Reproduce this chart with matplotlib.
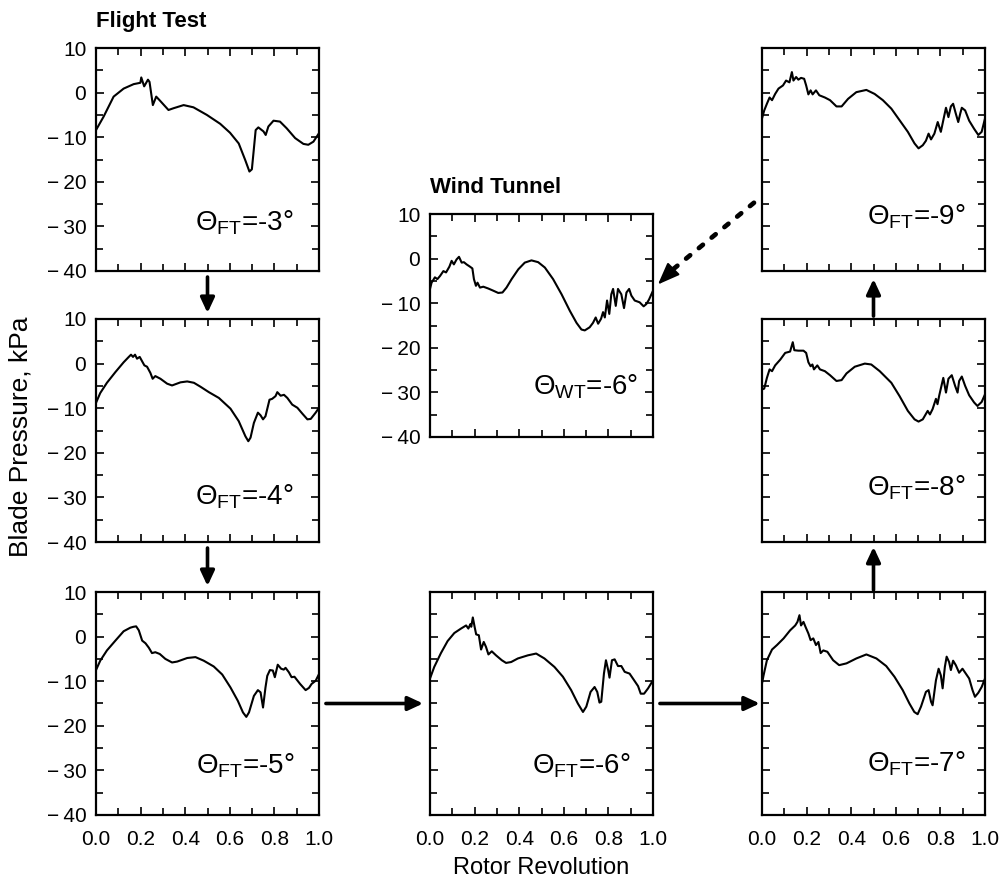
import matplotlib
matplotlib.use("Agg")
import matplotlib.pyplot as plt
from matplotlib.patches import ConnectionPatch, ArrowStyle
from matplotlib.ticker import MultipleLocator, FuncFormatter
from matplotlib.transforms import blended_transform_factory as blend

plt.rcParams['font.family'] = ['Liberation Sans', 'DejaVu Sans']
plt.rcParams['mathtext.fontset'] = 'custom'
plt.rcParams['mathtext.rm'] = 'Liberation Sans'

# (rotor revolution, blade pressure kPa)
ft3 = [(0, -8.4), (0.034, -5.4), (0.079, -0.9), (0.124, 0.9), (0.169, 1.9), (0.199, 2.2),
       (0.203, 3.4), (0.216, 1.4), (0.233, 2.9), (0.24, 2.4), (0.255, -2.8), (0.27, -0.9),
       (0.285, -1.7), (0.325, -3.9), (0.348, -3.5), (0.393, -2.8), (0.437, -3.3), (0.497, -5.0),
       (0.557, -7.0), (0.601, -9.0), (0.64, -11.4), (0.669, -15.1), (0.688, -17.7), (0.699, -17.2),
       (0.706, -13.6), (0.716, -8.4), (0.728, -7.8), (0.751, -8.7), (0.761, -9.5), (0.773, -7.6),
       (0.796, -6.3), (0.825, -6.5), (0.855, -8.0), (0.893, -10.2), (0.93, -11.5), (0.952, -11.7),
       (0.975, -11.0), (1.0, -9.1)]

ft4 = [(0, -8.8), (0.019, -6.6), (0.049, -4.3), (0.087, -1.9), (0.124, 0.3), (0.147, 1.5),
       (0.157, 2.0), (0.166, 1.5), (0.175, 2.0), (0.184, 1.1), (0.196, 1.5), (0.207, 0.5),
       (0.217, -0.4), (0.229, -0.7), (0.244, -2.1), (0.254, -3.4), (0.266, -2.8), (0.289, -3.4),
       (0.319, -4.5), (0.341, -4.9), (0.379, -4.2), (0.409, -4.0), (0.439, -4.3), (0.469, -5.2),
       (0.506, -6.4), (0.551, -7.7), (0.603, -10.1), (0.64, -12.9), (0.67, -16.3), (0.683, -17.4),
       (0.693, -16.6), (0.708, -13.3), (0.726, -11.0), (0.738, -11.6), (0.749, -12.5), (0.76, -11.8),
       (0.778, -8.1), (0.79, -7.9), (0.805, -7.3), (0.813, -6.4), (0.828, -7.2), (0.843, -7.0),
       (0.858, -7.7), (0.88, -9.2), (0.903, -9.9), (0.925, -11.2), (0.948, -12.5), (0.963, -12.4),
       (0.985, -11.0), (1.0, -9.9)]

ft5 = [(0, -7.5), (0.019, -5.4), (0.049, -3.1), (0.087, -0.9), (0.124, 1.2), (0.154, 2.0),
       (0.168, 2.2), (0.18, 2.3), (0.192, 1.4), (0.207, -0.9), (0.222, -1.5), (0.237, -2.5),
       (0.251, -3.7), (0.266, -3.5), (0.286, -3.9), (0.311, -5.0), (0.341, -5.8), (0.364, -5.6),
       (0.409, -4.8), (0.446, -4.6), (0.483, -5.4), (0.528, -6.7), (0.566, -8.5), (0.603, -11.4),
       (0.636, -14.4), (0.659, -17.0), (0.674, -18.0), (0.686, -17.0), (0.708, -13.3), (0.726, -12.0),
       (0.738, -12.5), (0.749, -15.9), (0.76, -11.4), (0.768, -8.8), (0.78, -7.5), (0.793, -7.6),
       (0.802, -9.1), (0.815, -6.3), (0.83, -7.2), (0.842, -7.4), (0.85, -7.0), (0.865, -8.0),
       (0.877, -9.1), (0.89, -9.0), (0.915, -10.6), (0.94, -12.0), (0.955, -11.5), (0.967, -10.6),
       (0.985, -9.9), (1.0, -8.4)]

ft6 = [(0, -9.4), (0.019, -6.8), (0.049, -3.7), (0.079, -1.0), (0.109, 0.8), (0.139, 1.8),
       (0.162, 2.5), (0.172, 1.8), (0.181, 2.8), (0.185, 2.2), (0.192, 4.3), (0.2, 2.2),
       (0.207, 0.5), (0.219, 0.3), (0.229, -2.9), (0.241, -1.2), (0.251, -2.3), (0.262, -4.0),
       (0.277, -3.3), (0.296, -4.2), (0.322, -5.3), (0.341, -5.9), (0.364, -5.7), (0.394, -4.9),
       (0.439, -4.2), (0.476, -3.8), (0.513, -4.9), (0.558, -6.8), (0.596, -9.0), (0.633, -12.0),
       (0.663, -15.0), (0.686, -16.9), (0.701, -15.7), (0.72, -12.4), (0.738, -11.3), (0.75, -12.4),
       (0.76, -14.8), (0.768, -14.6), (0.78, -8.3), (0.789, -5.3), (0.799, -7.5), (0.805, -9.2),
       (0.816, -5.3), (0.828, -5.1), (0.843, -6.6), (0.858, -6.6), (0.873, -7.9), (0.895, -8.3),
       (0.91, -9.4), (0.933, -11.1), (0.945, -12.8), (0.96, -12.8), (0.978, -11.6), (1.0, -9.8)]

ft7 = [(0, -10.5), (0.007, -8.7), (0.022, -5.3), (0.045, -2.9), (0.067, -1.9), (0.097, -0.4),
       (0.126, 1.4), (0.149, 2.5), (0.159, 3.3), (0.168, 4.8), (0.175, 2.5), (0.186, 3.3),
       (0.195, 2.2), (0.208, 0.7), (0.218, -0.8), (0.23, -0.4), (0.242, -1.9), (0.253, -1.2),
       (0.263, -3.7), (0.275, -3.1), (0.293, -3.4), (0.319, -5.3), (0.346, -6.4), (0.379, -6.0),
       (0.423, -4.9), (0.468, -4.0), (0.513, -4.9), (0.557, -6.6), (0.594, -9.0), (0.631, -12.0),
       (0.661, -15.0), (0.683, -16.9), (0.698, -17.4), (0.713, -15.7), (0.735, -12.4), (0.747, -12.0),
       (0.758, -14.6), (0.765, -15.4), (0.78, -9.8), (0.792, -7.2), (0.802, -8.7), (0.81, -11.6),
       (0.82, -6.8), (0.828, -4.5), (0.839, -5.7), (0.847, -7.5), (0.857, -5.4), (0.869, -6.4),
       (0.884, -8.1), (0.899, -7.2), (0.914, -8.3), (0.929, -9.4), (0.944, -12.0), (0.955, -13.5),
       (0.97, -12.6), (0.985, -11.3), (1.0, -9.4)]

ft8 = [(0, -5.8), (0.01, -5.6), (0.022, -3.2), (0.034, -1.3), (0.045, -1.7), (0.059, -0.4),
       (0.082, 0.9), (0.104, 2.4), (0.126, 2.7), (0.138, 4.8), (0.145, 3.0), (0.163, 2.9),
       (0.186, 2.9), (0.198, 2.4), (0.208, 0.3), (0.218, -0.6), (0.226, -0.2), (0.233, -1.3),
       (0.248, -0.4), (0.26, -1.3), (0.282, -1.7), (0.305, -2.6), (0.334, -3.9), (0.357, -3.7),
       (0.379, -2.2), (0.416, -0.7), (0.461, 0.0), (0.49, -0.2), (0.528, -1.7), (0.58, -4.3),
       (0.617, -7.3), (0.654, -10.6), (0.684, -12.5), (0.702, -13.0), (0.721, -12.5), (0.743, -10.6),
       (0.753, -11.4), (0.765, -10.2), (0.78, -7.9), (0.787, -9.1), (0.795, -7.1), (0.813, -3.2),
       (0.825, -6.5), (0.836, -3.4), (0.851, -2.6), (0.866, -5.0), (0.877, -6.5), (0.884, -3.9),
       (0.896, -2.9), (0.911, -5.0), (0.929, -7.1), (0.951, -8.7), (0.966, -9.5), (0.985, -8.6),
       (1.0, -6.9)]

ft9 = [(0, -5.8), (0.01, -4.0), (0.022, -2.5), (0.034, -1.1), (0.045, -1.7), (0.059, -0.3),
       (0.074, 0.9), (0.094, 1.6), (0.108, 2.7), (0.123, 2.3), (0.134, 4.6), (0.141, 2.7),
       (0.153, 3.5), (0.163, 2.9), (0.175, 3.3), (0.189, 3.1), (0.198, 1.6), (0.208, -0.4),
       (0.218, 0.5), (0.227, -0.4), (0.242, 0.5), (0.257, -0.6), (0.282, -1.1), (0.305, -1.7),
       (0.334, -3.1), (0.357, -3.1), (0.386, -1.4), (0.423, 0.1), (0.468, 0.6), (0.505, -0.3),
       (0.542, -1.7), (0.58, -3.6), (0.617, -6.2), (0.654, -8.8), (0.684, -11.4), (0.702, -12.5),
       (0.721, -11.8), (0.735, -10.8), (0.747, -9.2), (0.758, -10.5), (0.773, -9.2), (0.788, -6.6),
       (0.802, -8.8), (0.813, -6.2), (0.825, -3.4), (0.836, -5.5), (0.847, -3.1), (0.857, -2.5),
       (0.869, -4.7), (0.88, -6.6), (0.889, -4.7), (0.896, -3.4), (0.911, -4.0), (0.929, -6.3),
       (0.951, -8.1), (0.97, -9.5), (0.985, -8.8), (1.0, -5.8)]

wt6 = [(0, -6.8), (0.007, -5.4), (0.022, -4.2), (0.033, -4.6), (0.045, -3.9), (0.06, -2.8),
       (0.072, -3.1), (0.087, -1.8), (0.097, -0.5), (0.107, -1.3), (0.119, -0.2), (0.13, 0.4),
       (0.142, -0.9), (0.152, -0.8), (0.164, -1.3), (0.179, -1.8), (0.19, -2.2), (0.197, -4.6),
       (0.206, -6.1), (0.213, -5.4), (0.224, -6.5), (0.239, -6.3), (0.261, -6.7), (0.284, -7.2),
       (0.306, -7.7), (0.325, -7.6), (0.343, -6.5), (0.366, -4.6), (0.396, -2.4), (0.425, -0.9),
       (0.455, -0.4), (0.485, -0.8), (0.515, -2.0), (0.552, -4.6), (0.59, -8.0), (0.627, -11.7),
       (0.657, -14.4), (0.679, -15.9), (0.694, -16.1), (0.716, -15.4), (0.731, -14.4), (0.743, -13.2),
       (0.754, -14.6), (0.767, -13.5), (0.776, -12.0), (0.784, -13.2), (0.794, -9.4), (0.804, -12.4),
       (0.813, -8.0), (0.821, -6.8), (0.833, -10.6), (0.843, -6.8), (0.858, -8.0), (0.87, -11.1),
       (0.881, -7.6), (0.893, -6.8), (0.903, -8.3), (0.918, -9.4), (0.94, -9.8), (0.958, -10.7),
       (0.97, -10.2), (0.982, -9.2), (1.0, -7.2)]

labels = {'ft3': ('FT', '-3'), 'ft4': ('FT', '-4'), 'ft5': ('FT', '-5'), 'ft6': ('FT', '-6'),
          'ft7': ('FT', '-7'), 'ft8': ('FT', '-8'), 'ft9': ('FT', '-9'), 'wt6': ('WT', '-6')}
curves = {'ft3': ft3, 'ft4': ft4, 'ft5': ft5, 'ft6': ft6, 'ft7': ft7, 'ft8': ft8, 'ft9': ft9, 'wt6': wt6}

W, H = 1000, 885
fig = plt.figure(figsize=(W / 100, H / 100), dpi=100)

# panel boxes in pixels: left, top
boxes = {'ft3': (96, 48), 'ft4': (96, 319), 'ft5': (96, 592),
         'wt6': (430, 214), 'ft6': (430, 592),
         'ft9': (762, 48), 'ft8': (762, 319), 'ft7': (762, 592)}
pw, ph = 223, 223
ylabelled = ['ft3', 'ft4', 'ft5', 'wt6']
xlabelled = ['ft5', 'ft6', 'ft7']
label_x = {'ft3': 0.445, 'ft4': 0.445, 'ft5': 0.45, 'wt6': 0.46, 'ft6': 0.457,
           'ft7': 0.47, 'ft8': 0.47, 'ft9': 0.47}
label_y = {'ft3': 0.215, 'ft4': 0.205, 'ft5': 0.22, 'wt6': 0.227, 'ft6': 0.22,
           'ft7': 0.23, 'ft8': 0.245, 'ft9': 0.245}


def yfmt(v, pos):
    # long minus with a little gap, as in the original
    return ('\u2212\u2009%d' % -v) if v < 0 else '%d' % v


axes = {}
for key, (l, t) in boxes.items():
    ax = fig.add_axes([l / W, 1 - (t + ph) / H, pw / W, ph / H])
    xs = [p[0] for p in curves[key]]
    ys = [p[1] for p in curves[key]]
    ax.plot(xs, ys, color='black', lw=1.5)
    ax.set_xlim(0, 1)
    ax.set_ylim(-40, 10)
    ax.xaxis.set_major_locator(MultipleLocator(0.2))
    ax.xaxis.set_minor_locator(MultipleLocator(0.1))
    ax.yaxis.set_major_locator(MultipleLocator(10))
    ax.yaxis.set_minor_locator(MultipleLocator(5))
    ax.tick_params(which='both', direction='in', top=True, right=True, width=1.2,
                   labelsize=15, colors='black')
    ax.tick_params(which='major', length=6)
    ax.tick_params(which='minor', length=5)
    ax.tick_params(axis='x', pad=11)
    ax.tick_params(axis='y', pad=7)
    ax.xaxis.set_major_formatter(matplotlib.ticker.FormatStrFormatter('%.1f'))
    ax.yaxis.set_major_formatter(FuncFormatter(yfmt))
    if key not in xlabelled:
        ax.set_xticklabels([])
    if key not in ylabelled:
        ax.set_yticklabels([])
    for s in ax.spines.values():
        s.set_linewidth(1.6)
    sub, val = labels[key]
    ax.text(label_x[key], label_y[key], 'Θ$_{\\mathregular{' + sub + '}}$=' + val + '°',
            transform=ax.transAxes, fontsize=20, va='center', ha='left')
    axes[key] = ax

axes['ft3'].text(0.0, 1.117, 'Flight Test', transform=axes['ft3'].transAxes,
                 fontsize=16, fontweight='bold', va='center', ha='left')
axes['wt6'].text(0.0, 1.117, 'Wind Tunnel', transform=axes['wt6'].transAxes,
                 fontsize=16, fontweight='bold', va='center', ha='left')

fig.text(21 / W, 1 - 437 / H, 'Blade Pressure, kPa', rotation=90, fontsize=19,
         ha='center', va='center')
fig.text(541 / W, 1 - 868 / H, 'Rotor Revolution', fontsize=17, ha='center', va='center')

solid = ArrowStyle('-|>', head_length=0.6, head_width=0.28)


def link(a, pa, b, pb, ya='axes', yb='axes', style=solid, **kw):
    ta = axes[a].transAxes if ya == 'axes' else blend(axes[a].transAxes, axes[a].transData)
    tb = axes[b].transAxes if yb == 'axes' else blend(axes[b].transAxes, axes[b].transData)
    cp = ConnectionPatch(pa, pb, coordsA=ta, coordsB=tb, arrowstyle=style,
                         shrinkA=0, shrinkB=0, color='black', **kw)
    fig.add_artist(cp)


kw = dict(lw=2.6, mutation_scale=15)
link('ft3', (0.5, -0.027), 'ft4', (0.5, 1.027), **kw)
link('ft4', (0.5, -0.027), 'ft5', (0.5, 1.027), **kw)
link('ft5', (1.031, -15), 'ft6', (-0.031, -15), ya='data', yb='data', **kw)
link('ft6', (1.031, -15), 'ft7', (-0.01, -15), ya='data', yb='data', **kw)
link('ft7', (0.5, 1.009), 'ft8', (0.5, -0.022), **kw)
link('ft8', (0.5, 1.013), 'ft9', (0.5, -0.036), **kw)

# dotted link from the -9 deg flight case back to the wind tunnel case
link('ft9', (-0.036, -24.7), 'wt6', (1.09, -2.4), ya='data', yb='data', style='-',
     lw=3.4, linestyle=(0, (1.1, 2.4)))
link('wt6', (1.10, -1.9), 'wt6', (1.022, -5.8), ya='data', yb='data',
     style=ArrowStyle('-|>', head_length=0.9, head_width=0.35), lw=1.5, mutation_scale=15)

fig.savefig('out.png', dpi=100)
